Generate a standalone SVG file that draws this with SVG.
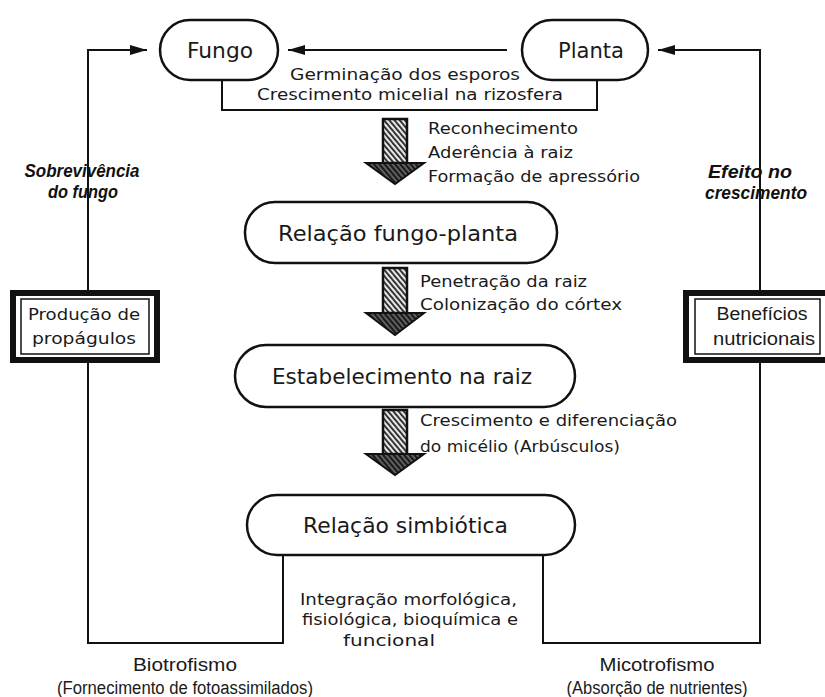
<svg xmlns="http://www.w3.org/2000/svg" width="825" height="697" viewBox="0 0 825 697">
<style>
.bg{fill:#ffffff}
.pill{fill:#ffffff;stroke:#111;stroke-width:2.5}
.ln{fill:none;stroke:#111;stroke-width:2}
.t{font-family:"DejaVu Sans","Noto Sans",sans-serif;fill:#1a1a1a}
.big{font-size:21px}
.sm{font-size:16px}
.a{font-family:"Liberation Sans",Arial,sans-serif;fill:#1a1a1a;font-size:18px}
.it{font-family:"Liberation Sans Narrow","Liberation Sans",Arial,sans-serif;font-weight:bold;font-style:italic;font-size:18px;fill:#111}
.shaft{fill:url(#hatch);stroke:#111;stroke-width:2.5;stroke-linejoin:miter}
.head{fill:url(#hatchDark);stroke:#111;stroke-width:2;stroke-linejoin:miter}
.outer{fill:#fff;stroke:#111;stroke-width:6}
.inner{fill:none;stroke:#111;stroke-width:1.5}
</style>
<defs>
<pattern id="hatch" patternUnits="userSpaceOnUse" width="4" height="4" patternTransform="rotate(-40)">
<rect width="4" height="4" fill="#e8e8e8"/>
<rect width="1.8" height="4" fill="#222"/>
</pattern>
<pattern id="hatchDark" patternUnits="userSpaceOnUse" width="4" height="4" patternTransform="rotate(-40)">
<rect width="4" height="4" fill="#666"/>
<rect width="2.2" height="4" fill="#1a1a1a"/>
</pattern>
<marker id="arr" markerUnits="userSpaceOnUse" markerWidth="18" markerHeight="12" refX="17" refY="5" orient="auto">
<path d="M0,0 L17,5 L0,10 Z" fill="#111"/>
</marker>
</defs>
<rect class="bg" x="0" y="0" width="825" height="697"/>

<g id="connectors">
<path class="ln" d="M283,555 V643 H88 V50 H147" marker-end="url(#arr)"/>
<path class="ln" d="M543,555 V643 H760 V50 H658" marker-end="url(#arr)"/>
<path class="ln" d="M507,50 H288" marker-end="url(#arr)"/>
<path class="ln" d="M222,80 V110 H597 V80"/>
<g id="arrow1">
<polygon class="shaft" points="383,119 407,119 407,163 383,163"/>
<polygon class="head" points="366,163 424,163 395,184"/>
</g>
<g id="arrow2">
<polygon class="shaft" points="383,268 407,268 407,313 383,313"/>
<polygon class="head" points="366,313 424,313 395,335"/>
</g>
<g id="arrow3">
<polygon class="shaft" points="383,410 407,410 407,454 383,454"/>
<polygon class="head" points="366,454 424,454 395,475"/>
</g>
</g>

<g id="fungo">
<rect class="pill" x="160" y="20" width="118" height="60" rx="30"/>
<text class="t big" x="220" y="58" text-anchor="middle" textLength="66" lengthAdjust="spacingAndGlyphs">Fungo</text>
</g>
<g id="planta">
<rect class="pill" x="522" y="20" width="126" height="60" rx="30"/>
<text class="t big" x="591" y="58" text-anchor="middle" textLength="66" lengthAdjust="spacingAndGlyphs">Planta</text>
</g>
<g id="germinacao">
<text class="t sm" x="290" y="80" textLength="230" lengthAdjust="spacingAndGlyphs">Germinação dos esporos</text>
<text class="t sm" x="257" y="100" textLength="306" lengthAdjust="spacingAndGlyphs">Crescimento micelial na rizosfera</text>
</g>
<g id="reconhecimento">
<text class="t sm" x="428" y="134" textLength="150" lengthAdjust="spacingAndGlyphs">Reconhecimento</text>
<text class="t sm" x="428" y="158" textLength="145" lengthAdjust="spacingAndGlyphs">Aderência à raiz</text>
<text class="t sm" x="428" y="182" textLength="212" lengthAdjust="spacingAndGlyphs">Formação de apressório</text>
</g>
<g id="relacao-fungo-planta">
<rect class="pill" x="245" y="202" width="312" height="61" rx="30"/>
<text class="t big" x="278" y="241" textLength="240" lengthAdjust="spacingAndGlyphs">Relação fungo-planta</text>
</g>
<g id="penetracao">
<text class="t sm" x="420" y="287" textLength="167" lengthAdjust="spacingAndGlyphs">Penetração da raiz</text>
<text class="t sm" x="420" y="310" textLength="202" lengthAdjust="spacingAndGlyphs">Colonização do córtex</text>
</g>
<g id="estabelecimento">
<rect class="pill" x="235" y="345" width="340" height="62" rx="31"/>
<text class="t big" x="272" y="384" textLength="260" lengthAdjust="spacingAndGlyphs">Estabelecimento na  raiz</text>
</g>
<g id="crescimento">
<text class="t sm" x="420" y="426" textLength="257" lengthAdjust="spacingAndGlyphs">Crescimento e diferenciação</text>
<text class="t sm" x="420" y="452" textLength="200" lengthAdjust="spacingAndGlyphs">do micélio (Arbúsculos)</text>
</g>
<g id="relacao-simbiotica">
<rect class="pill" x="247" y="495" width="328" height="60" rx="30"/>
<text class="t big" x="303" y="533" textLength="205" lengthAdjust="spacingAndGlyphs">Relação simbiótica</text>
</g>
<g id="integracao">
<text class="t sm" x="300" y="605" textLength="217" lengthAdjust="spacingAndGlyphs">Integração morfológica,</text>
<text class="t sm" x="302" y="625" textLength="216" lengthAdjust="spacingAndGlyphs">fisiológica, bioquímica e</text>
<text class="t sm" x="343" y="646" textLength="92" lengthAdjust="spacingAndGlyphs">funcional</text>
</g>
<g id="biotrofismo">
<text class="a" x="185" y="671" text-anchor="middle" textLength="104" lengthAdjust="spacingAndGlyphs">Biotrofismo</text>
<text class="a" x="185" y="694" text-anchor="middle" font-size="16" textLength="256" lengthAdjust="spacingAndGlyphs">(Fornecimento de fotoassimilados)</text>
</g>
<g id="micotrofismo">
<text class="a" x="657" y="671" text-anchor="middle" textLength="115" lengthAdjust="spacingAndGlyphs">Micotrofismo</text>
<text class="a" x="657" y="694" text-anchor="middle" font-size="16" textLength="181" lengthAdjust="spacingAndGlyphs">(Absorção de nutrientes)</text>
</g>
<g id="sobrevivencia">
<text class="it" x="82" y="177" text-anchor="middle" textLength="115" lengthAdjust="spacingAndGlyphs">Sobrevivência</text>
<text class="it" x="83" y="198" text-anchor="middle" textLength="70" lengthAdjust="spacingAndGlyphs">do fungo</text>
</g>
<g id="efeito">
<text class="it" x="750" y="178" text-anchor="middle" textLength="84" lengthAdjust="spacingAndGlyphs">Efeito no</text>
<text class="it" x="756" y="199" text-anchor="middle" textLength="102" lengthAdjust="spacingAndGlyphs">crescimento</text>
</g>
<g id="producao">
<rect class="outer" x="13" y="293" width="144" height="67"/>
<rect class="inner" x="21" y="299" width="128" height="55"/>
<text class="t sm" x="84" y="320" text-anchor="middle" textLength="112" lengthAdjust="spacingAndGlyphs">Produção de</text>
<text class="t sm" x="84" y="344" text-anchor="middle" textLength="104" lengthAdjust="spacingAndGlyphs">propágulos</text>
</g>
<g id="beneficios">
<rect class="outer" x="686" y="293" width="142" height="67"/>
<rect class="inner" x="695" y="299" width="125" height="55"/>
<text class="a" x="762" y="320" text-anchor="middle" textLength="91" lengthAdjust="spacingAndGlyphs">Benefícios</text>
<text class="a" x="764" y="345" text-anchor="middle" textLength="102" lengthAdjust="spacingAndGlyphs">nutricionais</text>
</g>
</svg>
